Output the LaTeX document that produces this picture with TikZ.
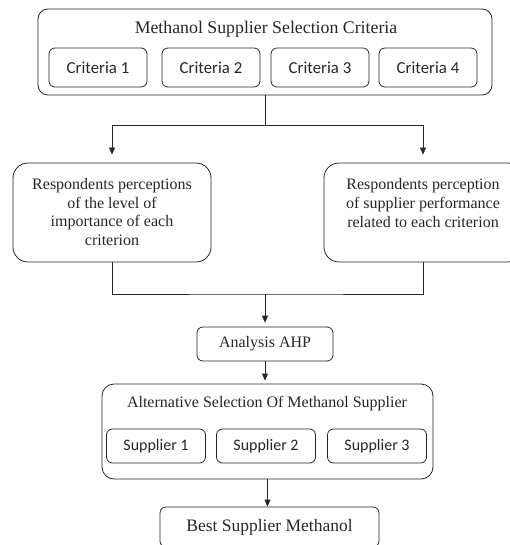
\documentclass[tikz,border=0pt]{standalone}
\usepackage{fontspec}
\setmainfont{Liberation Serif}
\newfontfamily\calibrifont{Carlito}
\usepackage{tikz}
\usetikzlibrary{arrows.meta}

\begin{document}
\begin{tikzpicture}[x=1pt, y=-1pt, line width=0.8pt, color=black!85,
        font=\fontsize{16}{18.7}\selectfont,
        frame/.style={draw, rounded corners=10pt},
        smallbox/.style={draw, rounded corners=6pt, minimum height=34, font=\calibrifont\fontsize{16}{19}\selectfont},
        arr/.style={-{Triangle[length=7pt,width=6pt]}}]
                \useasboundingbox (0,0) rectangle (510,545);
        
                \node[frame, minimum width=454, minimum height=86] (crit) at (265,52) {};
                \node[font=\fontsize{17.8}{20}\selectfont] (crittitle) at (266,29) {Methanol Supplier Selection Criteria};
                \foreach \i/\x in {1/98,2/211,3/320,4/428}
                    \node[smallbox, minimum width=98, minimum height=39, font=\calibrifont\fontsize{16.8}{19}\selectfont] (c\i) at (\x,67.5) {Criteria \i};
        
                \node[frame, rounded corners=15pt, minimum width=198, minimum height=99] (imp) at (112,212.5) {};
                \node[align=center] (imptext) at (112,212) {Respondents perceptions\\of the level of\\importance of each\\criterion};
                \node[frame, rounded corners=15pt, minimum width=198, minimum height=99] (perf) at (423,212.5) {};
                \node[align=center] (perftext) at (423,203) {Respondents perception\\of supplier performance\\related to each criterion};
        
                \node[frame, rounded corners=6pt, minimum width=136, minimum height=34] (ahp) at (265,344) {Analysis AHP};
        
                \node[frame, rounded corners=12pt, minimum width=331, minimum height=95] (alt) at (267.5,431.5) {};
                \node (alttitle) at (267,404) {Alternative Selection Of Methanol Supplier};
                \foreach \i/\x in {1/156,2/266,3/377}
                    \node[smallbox, minimum width=99] (s\i) at (\x,446) {Supplier \i};
        
                \node[frame, rounded corners=6pt, minimum width=219, minimum height=40, font=\fontsize{17.5}{20}\selectfont] (best) at (269.5,527) {Best Supplier Methanol};
        
                \coordinate (split) at (265,125);
                \coordinate (join) at (265,294);
                \draw (crit.south) -- (split);
                \draw[arr, shorten >=8pt] (split) -| (imp.north);
                \draw[arr, shorten >=8pt] (split) -| (perf.north);
                \draw (imp.south) |- (join) -| (perf.south);
                \draw[arr, shorten >=4pt] (join) -- (ahp.north);
                \draw[arr, shorten >=3pt] (ahp.south) -- (ahp.south |- alt.north);
                \draw[arr] (alt.south) -- (alt.south |- best.north);
            \end{tikzpicture}
\end{document}
